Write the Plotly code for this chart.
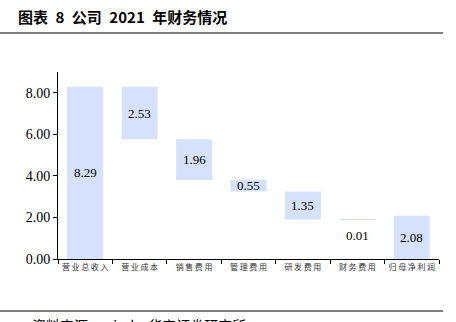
import plotly.graph_objects as go

categories = ["营业总收入", "营业成本", "销售费用", "管理费用", "研发费用", "财务费用", "归母净利润"]
values = [8.29, 2.53, 1.96, 0.55, 1.35, 0.01, 2.08]
kinds = ["total", "minus", "minus", "minus", "minus", "minus", "total"]
y_ticks = [0, 2, 4, 6, 8]

# compute floating bar bases from data
bases = []
running = 0.0
for v, k in zip(values, kinds):
    if k == "total":
        bases.append(0.0)
        running = v
    else:
        running -= v
        bases.append(running)

W, H = 456, 322
L, R, T, B = 58, 17, 72, 63
pw, ph = W - L - R, H - T - B

def px(x):
    return (x - L) / pw

def py(y):
    return (H - B - y) / ph

bar_color = "#d6e2fb"

fig = go.Figure()
fig.add_trace(go.Bar(
    x=categories, y=values, base=bases,
    marker=dict(color=bar_color, line=dict(width=0)),
    width=0.66, hoverinfo="skip",
))

annotations = []
for c, v, b in zip(categories, values, bases):
    small = v < 0.1
    annotations.append(dict(
        x=c, y=b + v / 2, xref="x", yref="y", text=f"{v:.2f}", showarrow=False,
        font=dict(family="Liberation Serif", size=13, color="#000000"),
        yshift=-16 if small else 0,
    ))

annotations.append(dict(
    x=px(16), y=py(17), xref="paper", yref="paper", xanchor="left", yanchor="middle",
    text="<b>图表\u20028\u2002公司\u20022021\u2002年财务情况</b>", showarrow=False,
    font=dict(family="Noto Sans CJK SC", size=15, color="#000000"),
))
annotations.append(dict(
    x=px(30), y=py(313), xref="paper", yref="paper", xanchor="left", yanchor="top",
    text="资料来源：wind，华安证券研究所", showarrow=False,
    font=dict(family="Noto Sans CJK SC", size=14, color="#000000"),
))

shapes = [
    dict(type="line", xref="paper", yref="paper", x0=px(0), x1=px(443), y0=py(33), y1=py(33),
         line=dict(color="#000000", width=1)),
    dict(type="line", xref="paper", yref="paper", x0=px(0), x1=px(443), y0=py(311), y1=py(311),
         line=dict(color="#000000", width=1)),
]

fig.update_layout(
    width=W, height=H,
    margin=dict(l=L, r=R, t=T, b=B, pad=0),
    paper_bgcolor="white", plot_bgcolor="white",
    showlegend=False,
    annotations=annotations, shapes=shapes,
    bargap=0.34,
)
fig.update_xaxes(
    type="category", showline=True, linecolor="#000000", linewidth=1,
    ticks="outside", ticklen=4, tickcolor="#000000", tickson="boundaries",
    tickvals=categories, ticktext=["\u2009".join(c) for c in categories],
    tickangle=0,
    tickfont=dict(family="Noto Sans CJK SC", size=8, color="#333333"),
    showgrid=False, zeroline=False, fixedrange=True,
)
fig.update_yaxes(
    range=[0, 9], tickvals=y_ticks, ticktext=[f"{t:.2f}" for t in y_ticks],
    showline=True, linecolor="#000000", linewidth=1,
    ticks="outside", ticklen=4, tickcolor="#000000",
    tickfont=dict(family="Liberation Serif", size=14, color="#000000"),
    showgrid=False, zeroline=False, fixedrange=True,
)

fig.write_html("out.html")
